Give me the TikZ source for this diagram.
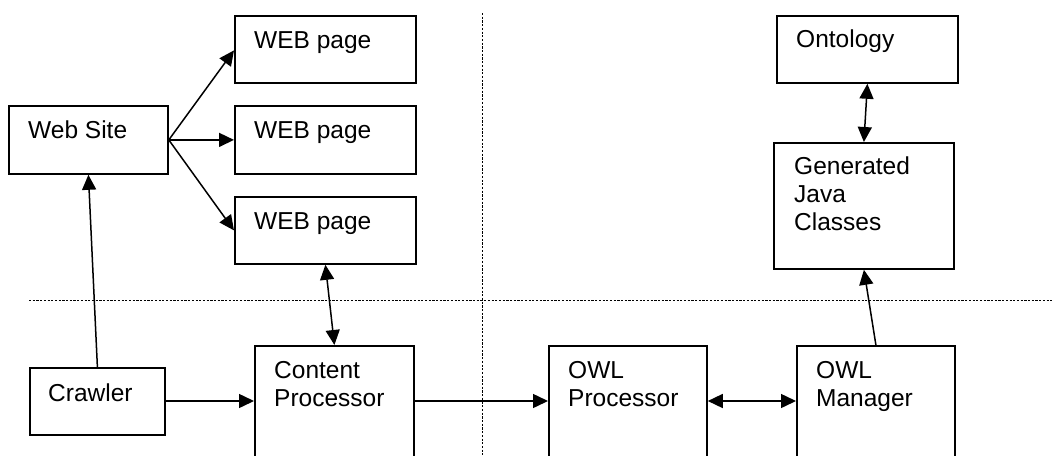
\documentclass[tikz,border=0pt]{standalone}
\usepackage{fontspec}
\setmainfont{Liberation Sans}
\usetikzlibrary{arrows.meta,calc}
\begin{document}
\begin{tikzpicture}[x=1pt,y=-1pt,
  blk/.style={draw, line width=1.8pt, inner sep=0pt, anchor=north west},
  lbl/.style={anchor=base west, inner sep=0pt, font=\fontsize{24.5}{28}\selectfont},
  conn/.style={line width=1.5pt, -{Triangle[length=15pt,width=14pt]}},
  biconn/.style={line width=1.5pt, {Triangle[length=15pt,width=14pt]}-{Triangle[length=15pt,width=14pt]}},
  sep/.style={line width=1pt, dash pattern=on 2.2pt off 1.5pt}]
\clip (0,0) rectangle (1054,455);
% boxes
\node[blk, minimum width=159pt, minimum height=68pt] (ws) at (8,105) {};
\node[blk, minimum width=181pt, minimum height=67pt] (wp1) at (234,15) {};
\node[blk, minimum width=181pt, minimum height=68pt] (wp2) at (234,105) {};
\node[blk, minimum width=181pt, minimum height=67pt] (wp3) at (234,196) {};
\node[blk, minimum width=135pt, minimum height=67pt] (cr) at (29,367) {};
\node[blk, minimum width=159pt, minimum height=120pt] (cp) at (254,345) {};
\node[blk, minimum width=158pt, minimum height=120pt] (op) at (548,345) {};
\node[blk, minimum width=158pt, minimum height=120pt] (om) at (796,345) {};
\node[blk, minimum width=181pt, minimum height=67pt] (on) at (776,15) {};
\node[blk, minimum width=180pt, minimum height=126pt] (gj) at (773,142) {};
% labels
\node[lbl] (ws-t) at ($(ws.north west)+(20,33)$) {Web Site};
\node[lbl] (wp1-t) at ($(wp1.north west)+(20,33)$) {WEB page};
\node[lbl] (wp2-t) at ($(wp2.north west)+(20,33)$) {WEB page};
\node[lbl] (wp3-t) at ($(wp3.north west)+(20,33)$) {WEB page};
\node[lbl] (cr-t) at ($(cr.north west)+(19,34)$) {Crawler};
\node[lbl] (cp-t) at ($(cp.north west)+(20,33)$) {\vtop{\hbox{Content}\hbox{Processor}}};
\node[lbl] (op-t) at ($(op.north west)+(20,33)$) {\vtop{\hbox{OWL}\hbox{Processor}}};
\node[lbl] (om-t) at ($(om.north west)+(20,33)$) {\vtop{\hbox{OWL}\hbox{Manager}}};
\node[lbl] (on-t) at ($(on.north west)+(20,32)$) {Ontology};
\node[lbl] (gj-t) at ($(gj.north west)+(21,32)$) {\vtop{\hbox{Generated}\hbox{Java}\hbox{Classes}}};
% separators
\coordinate (hl) at (29,300);
\coordinate (hr) at (1054,300);
\coordinate (vt) at (482,13);
\coordinate (vb) at (482,455);
\draw[sep] (hl) -- (hr);
\draw[sep] (vt) -- (vb);
% connectors
\coordinate (row) at (0,401);
\draw[conn] (ws.east) -- ($(wp1.west)+(0,1)$);
\draw[conn] (ws.east) -- (wp2.west);
\draw[conn] (ws.east) -- (wp3.west);
\draw[conn] (cr.north) -- (ws.south);
\draw[biconn] (wp3.south) -- (cp.north);
\draw[conn] (cr.east |- row) -- (cp.west |- row);
\draw[conn] (cp.east |- row) -- (op.west |- row);
\draw[biconn] (op.east |- row) -- (om.west |- row);
\draw[conn] (om.north) -- (gj.south);
\draw[biconn] (on.south) -- (gj.north);
\end{tikzpicture}
\end{document}
